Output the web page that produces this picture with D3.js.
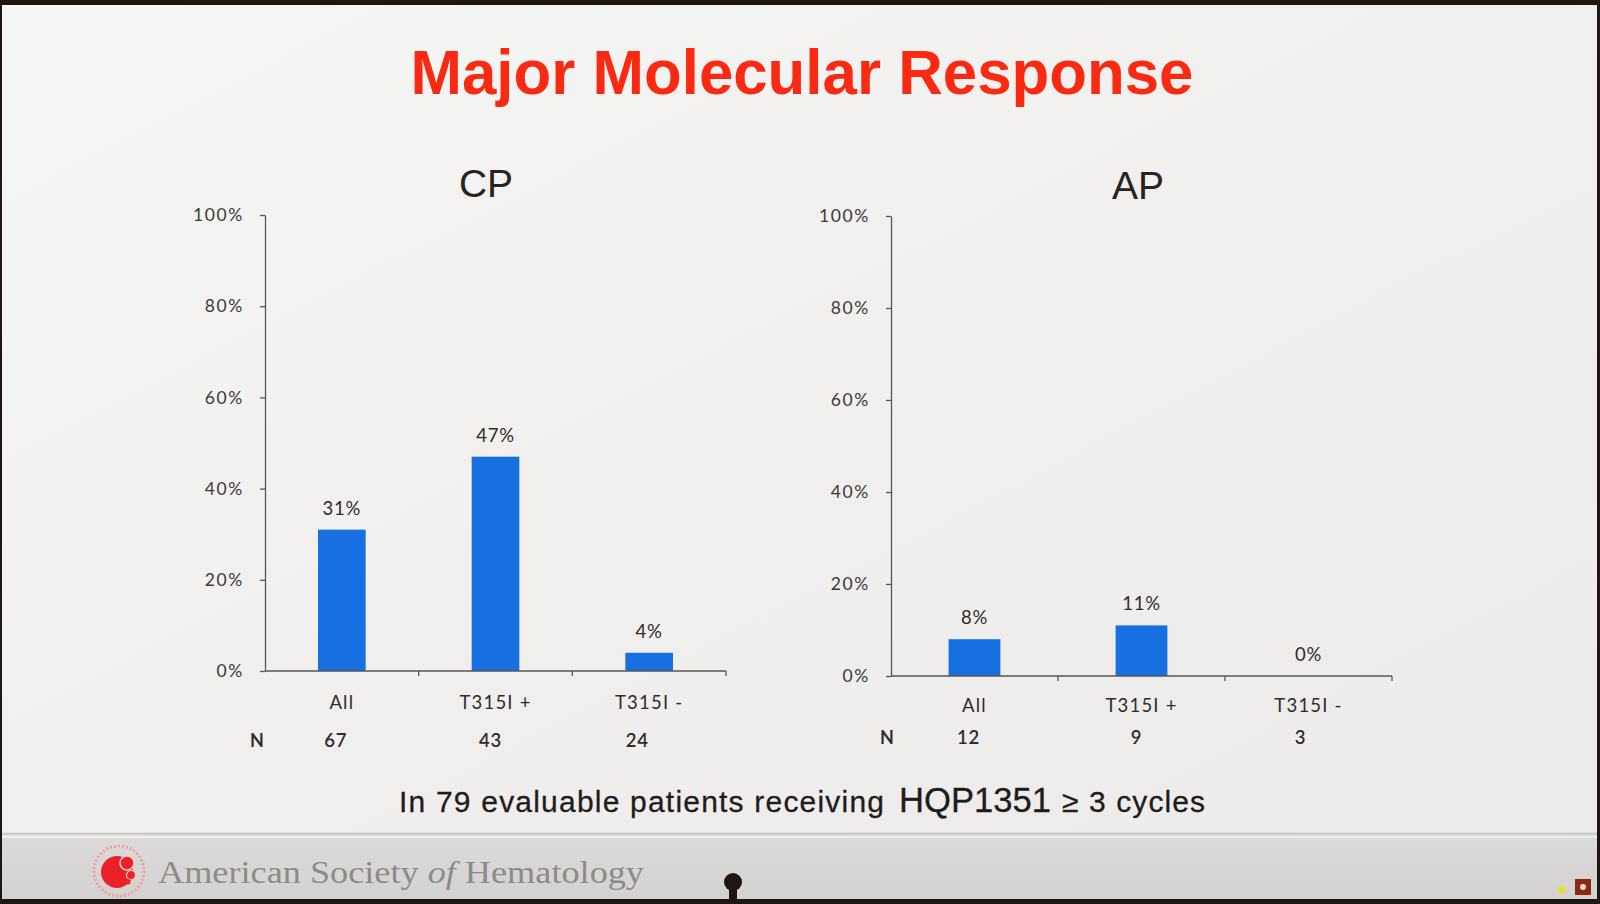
<!DOCTYPE html>
<html>
<head>
<meta charset="utf-8">
<script src="https://cdn.jsdelivr.net/npm/d3@7"></script>
<style>
  html, body { margin: 0; padding: 0; background: #1a1412; }
  svg { display: block; }
</style>
</head>
<body>
<svg id="chart" width="1600" height="904"></svg>
<script>
// ---------------- data ----------------
const mainTitle = "Major Molecular Response";
const categories = ["All", "T315I +", "T315I -"];
const cpValues = [31, 47, 4];
const apValues = [8, 11, 0];
const cpN = [67, 43, 24];
const apN = [12, 9, 3];
const yTicks = [0, 20, 40, 60, 80, 100];
const subtitleParts = ["In 79 evaluable patients receiving", "HQP1351", "\u2265 3 cycles"];
const footerText = ["American Society ", "of", " Hematology"];

// ---------------- canvas ----------------
const svg = d3.select("#chart");
const defs = svg.append("defs");
const bg = defs.append("linearGradient").attr("id", "bg").attr("x1", 0).attr("y1", 0).attr("x2", 1).attr("y2", 1);
bg.append("stop").attr("offset", "0%").attr("stop-color", "#f6f6f4");
bg.append("stop").attr("offset", "55%").attr("stop-color", "#f0efed");
bg.append("stop").attr("offset", "100%").attr("stop-color", "#ecebe9");
const ft = defs.append("linearGradient").attr("id", "ft").attr("x1", 0).attr("y1", 0).attr("x2", 0).attr("y2", 1);
ft.append("stop").attr("offset", "0%").attr("stop-color", "#dcdbd9");
ft.append("stop").attr("offset", "100%").attr("stop-color", "#d3d2d0");

svg.append("rect").attr("x", 0).attr("y", 0).attr("width", 1600).attr("height", 904).attr("fill", "#1e1613");
svg.append("rect").attr("x", 2).attr("y", 5).attr("width", 1595).attr("height", 830).attr("fill", "url(#bg)");
// footer band
svg.append("rect").attr("x", 2).attr("y", 833).attr("width", 1595).attr("height", 66).attr("fill", "url(#ft)");
svg.append("line").attr("x1", 2).attr("x2", 1597).attr("y1", 833.5).attr("y2", 833.5).attr("stroke", "#c4c3c1").attr("stroke-width", 1.5);
svg.append("line").attr("x1", 2).attr("x2", 1597).attr("y1", 837).attr("y2", 837).attr("stroke", "#eeeeec").attr("stroke-width", 2);

// title
svg.append("text")
  .attr("x", 802).attr("y", 94)
  .attr("text-anchor", "middle")
  .attr("font-family", "'Liberation Sans', Arial, sans-serif")
  .attr("font-weight", "bold")
  .attr("font-size", 63)
  .attr("textLength", 783).attr("lengthAdjust", "spacingAndGlyphs")
  .attr("fill", "#fa2a12")
  .text(mainTitle);

const labelFont = "Lato, 'Open Sans', sans-serif";

// ---------------- chart builder ----------------
function drawChart(cfg) {
  const g = svg.append("g");
  const x = d3.scaleBand().domain(categories).range([cfg.x0, cfg.x1]).paddingInner(0.69).paddingOuter(0.345);
  const xs = d3.scaleBand().domain(categories).range([cfg.x0, cfg.x1]);
  const y = d3.scaleLinear().domain([0, 100]).range([cfg.yb, cfg.yt]);

  // panel title
  g.append("text").attr("x", cfg.titleX).attr("y", cfg.titleY)
    .attr("text-anchor", "middle")
    .attr("font-family", "'Liberation Sans', Arial, sans-serif")
    .attr("font-size", 39).attr("fill", "#262422")
    .text(cfg.title);

  // y axis
  const ya = g.append("g").attr("transform", `translate(${cfg.x0},0)`)
    .call(d3.axisLeft(y).tickValues(yTicks).tickFormat(d => d + "%").tickSize(5).tickSizeOuter(0).tickPadding(16));
  ya.select(".domain").attr("stroke", "#5a5654").attr("stroke-width", 1.3);
  ya.selectAll(".tick line").attr("stroke", "#5a5654").attr("stroke-width", 1.3);
  ya.selectAll(".tick text").attr("font-family", labelFont)
    .attr("font-size", 17.5).attr("letter-spacing", 1.6).attr("fill", "#3c3a38");

  // bars
  g.selectAll("rect.bar").data(cfg.values).join("rect")
    .attr("class", "bar")
    .attr("x", (d, i) => x(categories[i]))
    .attr("width", x.bandwidth())
    .attr("y", d => y(d))
    .attr("height", d => y(0) - y(d))
    .attr("fill", "#1670e2");

  // value labels
  g.selectAll("text.val").data(cfg.values).join("text")
    .attr("class", "val")
    .attr("x", (d, i) => x(categories[i]) + x.bandwidth() / 2)
    .attr("y", d => y(d) - 15)
    .attr("text-anchor", "middle")
    .attr("font-family", labelFont)
    .attr("font-size", 18.5).attr("letter-spacing", 0.8).attr("fill", "#2f2d2b")
    .text(d => d + "%");

  // x axis line + boundary ticks
  g.append("line").attr("x1", cfg.x0).attr("x2", cfg.x1).attr("y1", y(0)).attr("y2", y(0))
    .attr("stroke", "#5a5654").attr("stroke-width", 1.5);
  g.selectAll("line.xt").data(categories).join("line")
    .attr("class", "xt")
    .attr("x1", d => xs(d) + xs.step()).attr("x2", d => xs(d) + xs.step())
    .attr("y1", y(0)).attr("y2", y(0) + 5)
    .attr("stroke", "#5a5654").attr("stroke-width", 1.3);

  // category labels
  g.selectAll("text.cat").data(categories).join("text")
    .attr("class", "cat")
    .attr("x", d => xs(d) + xs.bandwidth() / 2)
    .attr("y", cfg.catY)
    .attr("text-anchor", "middle")
    .attr("font-family", labelFont)
    .attr("font-size", 18.5).attr("letter-spacing", 1.2).attr("fill", "#2f2d2b")
    .text(d => d);

  // N row
  g.append("text").attr("x", cfg.nX).attr("y", cfg.nY)
    .attr("text-anchor", "middle")
    .attr("font-family", labelFont)
    .attr("font-weight", "bold")
    .attr("font-size", 18).attr("fill", "#2f2d2b")
    .text("N");
  g.selectAll("text.n").data(cfg.n).join("text")
    .attr("class", "n")
    .attr("x", (d, i) => xs(categories[i]) + xs.bandwidth() / 2 + cfg.nShift[i])
    .attr("y", cfg.nY)
    .attr("text-anchor", "middle")
    .attr("font-family", labelFont)
    .attr("font-weight", "600")
    .attr("font-size", 18.5).attr("letter-spacing", 0.8).attr("fill", "#2f2d2b")
    .text(d => d);
}

drawChart({ title: "CP", titleX: 486, titleY: 197, x0: 265, x1: 726, yt: 215, yb: 671,
  values: cpValues, n: cpN, catY: 709, nY: 747, nX: 257, nShift: [-6, -5, -12] });
drawChart({ title: "AP", titleX: 1138, titleY: 199, x0: 891, x1: 1392, yt: 216, yb: 676,
  values: apValues, n: apN, catY: 712, nY: 744, nX: 887, nShift: [-6, -5, -8] });

// subtitle
const sub = svg.append("g")
  .attr("font-family", "'Liberation Sans', Arial, sans-serif").attr("fill", "#1f1d1b")
  .attr("stroke", "#1f1d1b").attr("stroke-width", 0.3);
sub.append("text").attr("x", 399).attr("y", 812).attr("font-size", 30)
  .attr("textLength", 485).attr("lengthAdjust", "spacing").text(subtitleParts[0]);
sub.append("text").attr("x", 899).attr("y", 812).attr("font-size", 35)
  .attr("textLength", 152).attr("lengthAdjust", "spacingAndGlyphs").text(subtitleParts[1]);
sub.append("text").attr("x", 1062).attr("y", 812).attr("font-size", 30)
  .attr("textLength", 143).attr("lengthAdjust", "spacing").text(subtitleParts[2]);

// footer logo
const logo = svg.append("g").attr("transform", "translate(119,871)");
logo.append("circle").attr("r", 25).attr("fill", "none").attr("stroke", "#f0a0a0").attr("stroke-width", 3).attr("stroke-dasharray", "2 2");
logo.append("circle").attr("cx", -2).attr("cy", 1).attr("r", 16).attr("fill", "#ec2027");
logo.append("circle").attr("cx", 8).attr("cy", -8).attr("r", 7).attr("fill", "#ec2027").attr("stroke", "#f4d0d0").attr("stroke-width", 1.5);
logo.append("circle").attr("cx", 12).attr("cy", 4).attr("r", 4.5).attr("fill", "#ec2027").attr("stroke", "#f4d0d0").attr("stroke-width", 1.2);
logo.append("circle").attr("cx", 9).attr("cy", 11).attr("r", 2.5).attr("fill", "#ec2027");

const ftxt = svg.append("text").attr("x", 158).attr("y", 883)
  .attr("font-family", "'Liberation Serif', 'DejaVu Serif', serif")
  .attr("font-size", 32).attr("fill", "#8c8b89")
  .attr("textLength", 486).attr("lengthAdjust", "spacingAndGlyphs");
ftxt.append("tspan").text(footerText[0]);
ftxt.append("tspan").attr("font-style", "italic").text(footerText[1]);
ftxt.append("tspan").text(footerText[2]);

// small markers bottom right
svg.append("circle").attr("cx", 1562).attr("cy", 890).attr("r", 4).attr("fill", "#e4e040");
svg.append("rect").attr("x", 1575).attr("y", 879).attr("width", 16).attr("height", 16).attr("fill", "#8b2a14");
svg.append("circle").attr("cx", 1583).attr("cy", 887).attr("r", 3).attr("fill", "#f0d8d0");
// pin silhouette
svg.append("circle").attr("cx", 733).attr("cy", 882).attr("r", 9).attr("fill", "#1e1613");
svg.append("rect").attr("x", 729).attr("y", 882).attr("width", 8).attr("height", 20).attr("fill", "#1e1613");
</script>
</body>
</html>
